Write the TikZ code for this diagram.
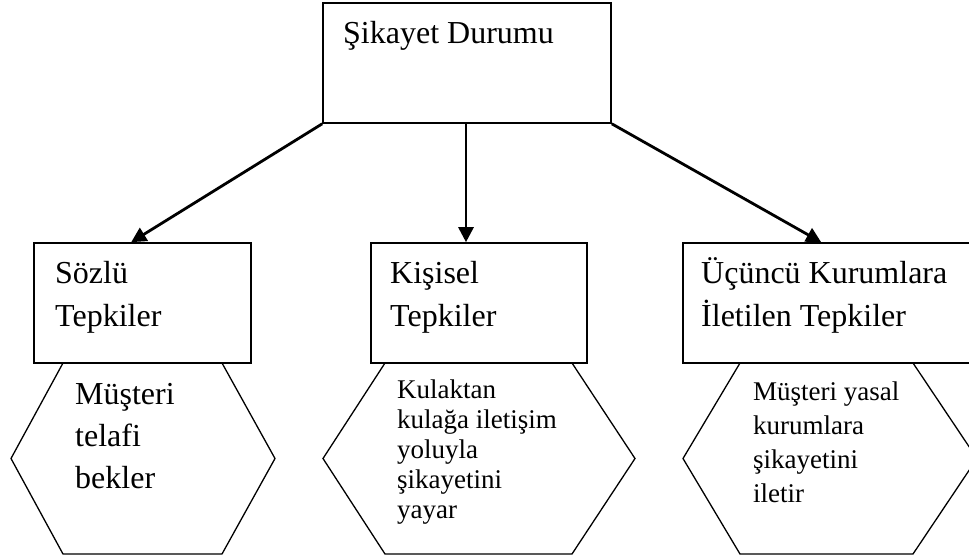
\documentclass[tikz,border=0pt]{standalone}
\usepackage{fontspec}
\setmainfont{Liberation Serif}
\usetikzlibrary{arrows.meta,calc}
\begin{document}
\begin{tikzpicture}[x=1pt,y=-1pt,
  boxstyle/.style={draw,line width=1.6pt,inner sep=0pt,minimum height=120pt},
  hexstyle/.style={draw,line width=1.3pt,line join=miter},
  bigtext/.style={inner sep=0pt,anchor=base west,align=left,font=\fontsize{32}{43}\selectfont},
  smalltext/.style={inner sep=0pt,anchor=base west,align=left,font=\fontsize{27}{30}\selectfont},
  conn/.style={line width=2.8pt,-{Triangle[length=15pt,width=15pt]}}]
\useasboundingbox (0,0) rectangle (969,559);
% boxes
\node[boxstyle,minimum width=288pt] (top) at (467,63) {};
\node[boxstyle,minimum width=217pt] (sozlu) at (142.5,303) {};
\node[boxstyle,minimum width=216pt] (kisisel) at (479,303) {};
\node[boxstyle,minimum width=302pt] (ucuncu) at (834,303) {};
% hexagons
\draw[hexstyle] (63,363) coordinate (h1a) -- (222,363) -- (275,458.5) -- (222,554) -- (63,554) -- (11,458.5) -- cycle;
\draw[hexstyle] (385,363) coordinate (h2a) -- (572,363) -- (635,458.5) -- (572,554) -- (385,554) -- (323,458.5) -- cycle;
\draw[hexstyle] (740,363) coordinate (h3a) -- (913,363) -- (977,458.5) -- (913,554) -- (740,554) -- (683,458.5) -- cycle;
% texts (base anchor = baseline of last line)
\node[bigtext] (ttop) at (343,44) {Şikayet Durumu};
\node[bigtext] (t1) at (55,326) {Sözlü\\Tepkiler};
\node[bigtext] (t2) at (390,326) {Kişisel\\Tepkiler};
\node[bigtext] (t3) at (701,326) {Üçüncü Kurumlara\\İletilen Tepkiler};
\node[bigtext,font=\fontsize{32}{42}\selectfont] (h1t) at (75,488) {Müşteri\\telafi\\bekler};
\node[smalltext] (h2t) at (397,518) {Kulaktan\\kulağa iletişim\\yoluyla\\şikayetini\\yayar};
\node[smalltext,font=\fontsize{27}{34}\selectfont] (h3t) at (753,502) {Müşteri yasal\\kurumlara\\şikayetini\\iletir};
% connectors
\coordinate (mtip) at ($(kisisel.north)+(-13,0)$);
\coordinate (ltip) at ($(sozlu.north west)+(98,0)$);
\coordinate (rtip) at ($(ucuncu.north west)+(139,0)$);
\draw[conn] (top.south west) -- (ltip);
\draw[conn] (top.south -| mtip) -- (mtip);
\draw[conn] (top.south east) -- (rtip);
\end{tikzpicture}
\end{document}
